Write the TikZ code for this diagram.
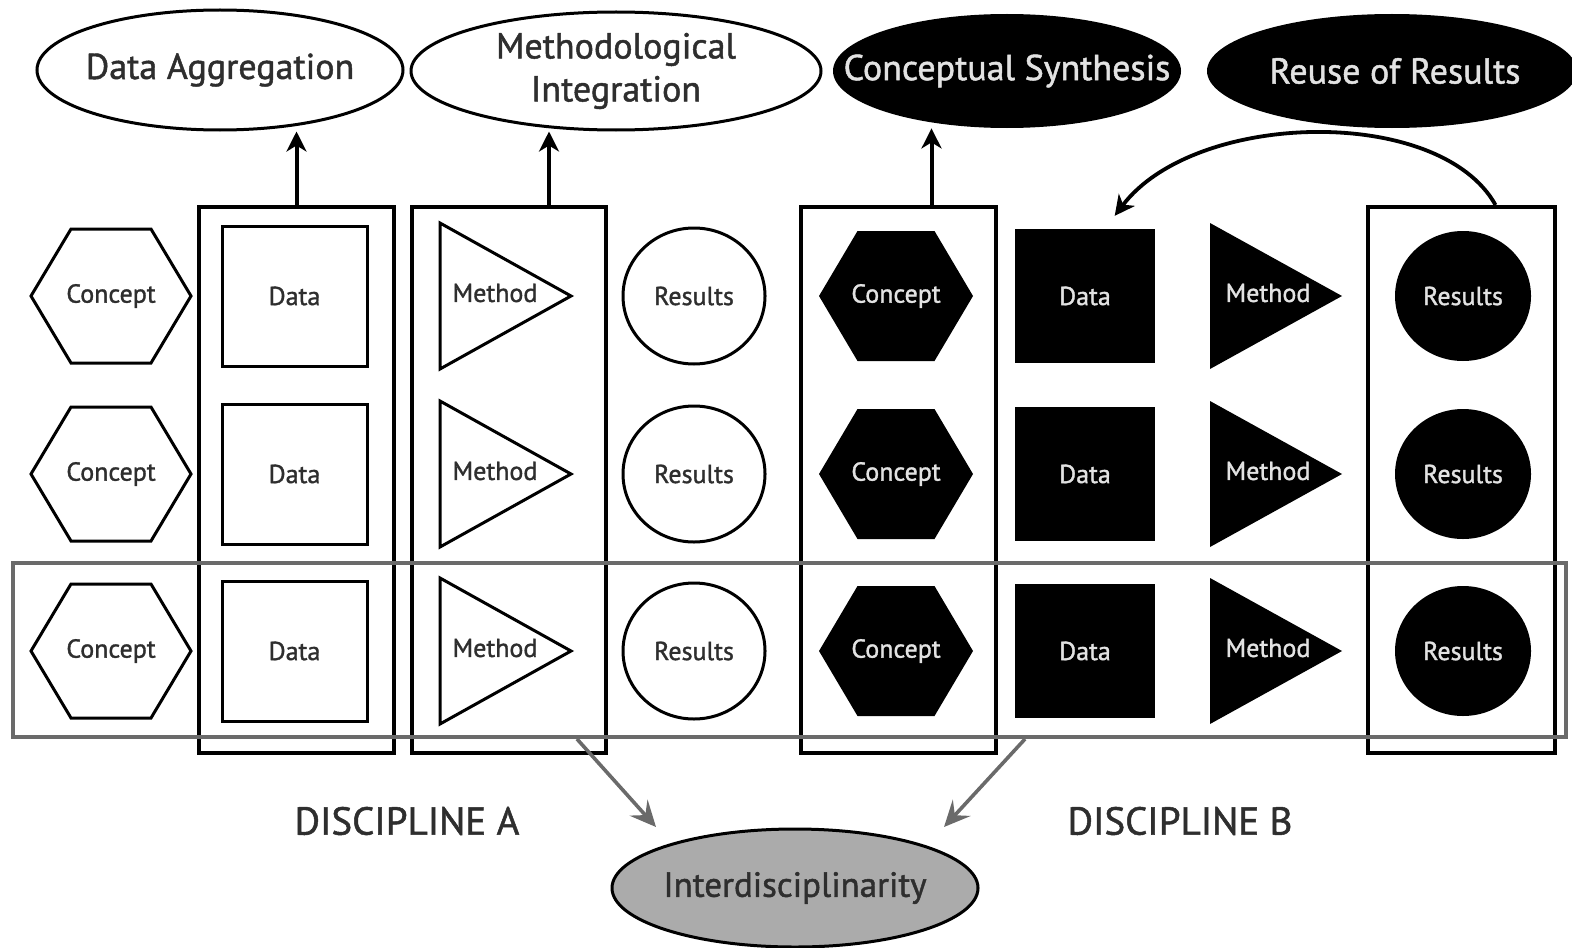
\documentclass[tikz,border=0pt]{standalone}
\usepackage{fontspec}
\setmainfont{PT Sans}[FakeBold=1.3]
\usetikzlibrary{shapes.geometric,arrows.meta,calc}
\definecolor{txt}{HTML}{2E2E2E}
\definecolor{btxt}{HTML}{E2E2E2}
\definecolor{grayline}{HTML}{6A6A6A}
\definecolor{grayfill}{HTML}{ABABAB}
\newcommand\fTop{\fontsize{18}{21.5}\selectfont}
\newcommand\fIn{\fontsize{13}{15}\selectfont}
\newcommand\fDisc{\fontsize{19.5}{22}\selectfont}
\newcommand\fInter{\fontsize{17.5}{20}\selectfont}
\tikzset{
  topw/.style={ellipse, draw=black, line width=1.5pt, fill=white, inner sep=0pt},
  topb/.style={ellipse, fill=black, inner sep=0pt},
  toplbl/.style={text=txt, font=\fTop, inner sep=0pt, align=center},
  toplblb/.style={text=btxt, font=\fTop, inner sep=0pt, align=center},
  vbox/.style={draw=black, line width=2pt, inner sep=0pt},
  hbox/.style={draw=grayline, line width=2pt, inner sep=0pt},
  wshape/.style={draw=black, line width=1.5pt, fill=white},
  bshape/.style={fill=black, draw=none},
  wlbl/.style={text=txt, font=\fIn, inner sep=0pt},
  blbl/.style={text=btxt, font=\fIn, inner sep=0pt},
  uparrow/.style={draw=black, line width=2pt, -{Stealth[length=10pt,width=10pt,inset=3pt]}},
  curvearrow/.style={draw=black, line width=1.9pt, -{Stealth[length=10pt,width=10pt,inset=3pt]}},
  grayarrow/.style={draw=grayline, line width=1.8pt, -{Stealth[length=13pt,width=12pt,inset=5pt]}},
  disc/.style={text=txt, font=\fDisc, inner sep=0pt},
}
\begin{document}
\begin{tikzpicture}[x=0.5pt,y=-0.5pt]
\useasboundingbox (0,0) rectangle (1572,947);

% top ellipses
\node[topw, minimum width=183pt, minimum height=60pt] (agg) at (220,70) {};
\node[toplbl] (aggT) at (agg) {Data Aggregation};
\node[topw, minimum width=205pt, minimum height=59pt] (meth) at (616,71) {};
\node[toplbl] (methT) at (meth) {Methodological\\Integration};
\node[topb, minimum width=174pt, minimum height=57pt] (conc) at (1007,71) {};
\node[toplblb] (concT) at (conc) {Conceptual Synthesis};
\node[topb, minimum width=185pt, minimum height=57pt] (reuse) at (1392,71) {};
\node[toplblb] (reuseT) at (1395,71) {Reuse of Results};

% vertical boxes
\node[vbox, minimum width=97.5pt, minimum height=273pt] (b1) at (296.5,480) {};
\node[vbox, minimum width=97pt, minimum height=273pt] (b2) at (509,480) {};
\node[vbox, minimum width=97.5pt, minimum height=273pt] (b3) at (898.5,480) {};
\node[vbox, minimum width=93.5pt, minimum height=273pt] (b4) at (1461.5,480) {};

% horizontal gray box
\node[hbox, minimum width=776.5pt, minimum height=87pt] (hz) at (789.5,650) {};

% shapes
\foreach \r/\y in {1/296,2/474,3/651}{
  \path[wshape] (31,\y) -- (71,\y-67) -- (151,\y-67) -- (191,\y) -- (151,\y+67) -- (71,\y+67) -- cycle;
  \node[wlbl] (cA\r) at (111,\y) {Concept};
  \node[wshape, wlbl, minimum width=72.5pt, minimum height=70pt] (dA\r) at (294.5,\y) {Data};
  \path[wshape] (440,\y-73) -- (571,\y) -- (440,\y+73) -- cycle;
  \node[wlbl] (mA\r) at (495,\y-3) {Method};
  \node[wshape, wlbl, ellipse, minimum width=71pt, minimum height=68pt] (rA\r) at (694,\y) {Results};
  \path[bshape] (819,\y) -- (857.5,\y-65) -- (934.5,\y-65) -- (973,\y) -- (934.5,\y+65) -- (857.5,\y+65) -- cycle;
  \node[blbl] (cB\r) at (896,\y) {Concept};
  \node[bshape, blbl, minimum width=70pt, minimum height=67pt] (dB\r) at (1085,\y) {Data};
  \path[bshape] (1210,\y-73) -- (1342,\y) -- (1210,\y+73) -- cycle;
  \node[blbl] (mB\r) at (1268,\y-3) {Method};
  \node[bshape, blbl, ellipse, minimum width=68pt, minimum height=65pt] (rB\r) at (1463,\y) {Results};
}

% arrows up
\draw[uparrow] (b1.north) -- (b1.north |- agg.south);
\draw[uparrow] ([xshift=20pt]b2.north) -- ([xshift=20pt]b2.north |- meth.south);
\draw[uparrow] ([xshift=16.5pt]b3.north) -- ([xshift=16.5pt]b3.north |- conc.south);

% reuse curve
\draw[curvearrow, shorten >=8pt] ([xshift=17pt]b4.north) .. controls (1440,105) and (1195,110) .. ([xshift=10pt]dB1.north);

% labels
\node[disc] (discA) at (407,821) {DISCIPLINE A};
\node[disc] (discB) at (1180,821) {DISCIPLINE B};

% interdisciplinarity
\node[ellipse, draw=black, line width=1.5pt, fill=grayfill, minimum width=183pt, minimum height=59pt, inner sep=0pt] (inter) at (795,888) {};
\node[text=txt, font=\fInter, inner sep=0pt] (interT) at (inter) {Interdisciplinarity};

% gray arrows
\coordinate (sA) at (577,737);
\coordinate (eA) at (656,827);
\coordinate (sB) at (1025,737);
\coordinate (eB) at (944,827);
\draw[grayarrow] (hz.south -| sA) -- (eA);
\draw[grayarrow] (hz.south -| sB) -- (eB);
\end{tikzpicture}
\end{document}
